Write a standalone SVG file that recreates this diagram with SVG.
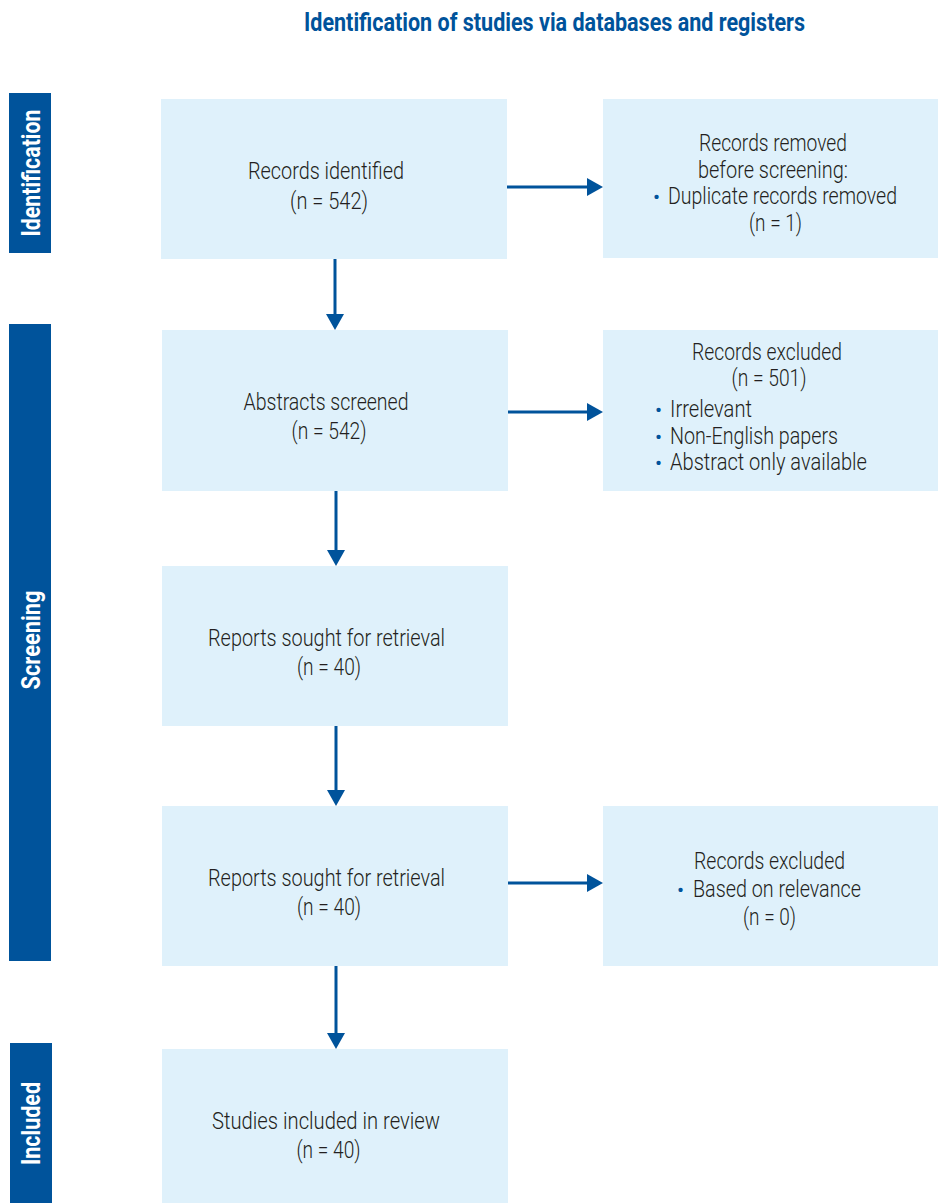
<svg xmlns="http://www.w3.org/2000/svg" width="938" height="1203" viewBox="0 0 938 1203">
<style>
.box{fill:#DFF1FB}
.bar{fill:#00539B}
.t{font-family:Roboto,"Liberation Sans",sans-serif;font-weight:300;font-size:23px;fill:#231F20}
.c{text-anchor:middle}
.b{font-family:Roboto,"Liberation Sans",sans-serif;font-size:21px;fill:#00539B}
.lab{font-family:Roboto,"Liberation Sans",sans-serif;font-weight:700;font-size:25px;fill:#FFFFFF;text-anchor:middle}
.title{font-family:Roboto,"Liberation Sans",sans-serif;font-weight:700;font-size:25px;fill:#00539B;text-anchor:middle}
.con{stroke:#00539B;stroke-width:3;fill:none;marker-end:url(#ah)}
</style>
<defs>
<marker id="ah" markerUnits="userSpaceOnUse" markerWidth="16" markerHeight="18" refX="6" refY="9" orient="auto" viewBox="0 0 16 18">
<path d="M0,0 L16,9 L0,18 Z" fill="#00539B"/>
</marker>
</defs>
<rect width="938" height="1203" fill="#FFFFFF"/>
<text class="title" x="554.5" y="30.5" textLength="501" lengthAdjust="spacingAndGlyphs">Identification of studies via databases and registers</text>

<g id="phase-identification">
<rect class="bar" x="9" y="93" width="42" height="160"/>
<text class="lab" transform="translate(39.5,173) rotate(-90)" textLength="127" lengthAdjust="spacingAndGlyphs">Identification</text>
</g>
<g id="phase-screening">
<rect class="bar" x="9" y="324" width="42" height="637"/>
<text class="lab" transform="translate(39.5,640) rotate(-90)" textLength="99" lengthAdjust="spacingAndGlyphs">Screening</text>
</g>
<g id="phase-included">
<rect class="bar" x="10" y="1043" width="42" height="160"/>
<text class="lab" transform="translate(39.5,1123.5) rotate(-90)" textLength="83" lengthAdjust="spacingAndGlyphs">Included</text>
</g>

<g id="records-identified">
<rect class="box" x="161" y="99" width="346" height="160"/>
<text class="t c" x="326" y="179" textLength="156" lengthAdjust="spacingAndGlyphs">Records identified</text>
<text class="t c" x="329" y="208.5" textLength="78" lengthAdjust="spacingAndGlyphs">(n = 542)</text>
</g>
<g id="records-removed">
<rect class="box" x="603" y="99" width="335" height="159"/>
<text class="t c" x="773" y="151" textLength="148" lengthAdjust="spacingAndGlyphs">Records removed</text>
<text class="t c" x="773" y="177.5" textLength="150" lengthAdjust="spacingAndGlyphs">before screening:</text>
<text class="b" x="653" y="204">•</text>
<text class="t" x="668" y="204" textLength="229" lengthAdjust="spacingAndGlyphs">Duplicate records removed</text>
<text class="t c" x="775.5" y="230.5" textLength="53" lengthAdjust="spacingAndGlyphs">(n = 1)</text>
</g>
<g id="abstracts-screened">
<rect class="box" x="162" y="330" width="346" height="161"/>
<text class="t c" x="326" y="409.5" textLength="165" lengthAdjust="spacingAndGlyphs">Abstracts screened</text>
<text class="t c" x="329" y="438.5" textLength="75" lengthAdjust="spacingAndGlyphs">(n = 542)</text>
</g>
<g id="records-excluded-1">
<rect class="box" x="603" y="330" width="335" height="161"/>
<text class="t c" x="767" y="359.5" textLength="150" lengthAdjust="spacingAndGlyphs">Records excluded</text>
<text class="t c" x="769" y="386" textLength="75" lengthAdjust="spacingAndGlyphs">(n = 501)</text>
<text class="b" x="655" y="416.5">•</text>
<text class="t" x="670" y="416.5" textLength="82" lengthAdjust="spacingAndGlyphs">Irrelevant</text>
<text class="b" x="655" y="443.5">•</text>
<text class="t" x="670" y="443.5" textLength="168" lengthAdjust="spacingAndGlyphs">Non-English papers</text>
<text class="b" x="655" y="470">•</text>
<text class="t" x="670" y="470" textLength="197" lengthAdjust="spacingAndGlyphs">Abstract only available</text>
</g>
<g id="reports-sought-1">
<rect class="box" x="162" y="566" width="346" height="160"/>
<text class="t c" x="326.5" y="645.5" textLength="237" lengthAdjust="spacingAndGlyphs">Reports sought for retrieval</text>
<text class="t c" x="329" y="674.5" textLength="64" lengthAdjust="spacingAndGlyphs">(n = 40)</text>
</g>
<g id="reports-sought-2">
<rect class="box" x="162" y="806" width="346" height="160"/>
<text class="t c" x="326.5" y="885.5" textLength="237" lengthAdjust="spacingAndGlyphs">Reports sought for retrieval</text>
<text class="t c" x="329" y="914.5" textLength="64" lengthAdjust="spacingAndGlyphs">(n = 40)</text>
</g>
<g id="records-excluded-2">
<rect class="box" x="603" y="806" width="335" height="160"/>
<text class="t c" x="769.5" y="868.5" textLength="151" lengthAdjust="spacingAndGlyphs">Records excluded</text>
<text class="b" x="677" y="897">•</text>
<text class="t" x="693" y="897" textLength="168" lengthAdjust="spacingAndGlyphs">Based on relevance</text>
<text class="t c" x="769.5" y="924.5" textLength="53" lengthAdjust="spacingAndGlyphs">(n = 0)</text>
</g>
<g id="studies-included">
<rect class="box" x="162" y="1049" width="346" height="154"/>
<text class="t c" x="326" y="1129" textLength="228" lengthAdjust="spacingAndGlyphs">Studies included in review</text>
<text class="t c" x="328.5" y="1157.5" textLength="64" lengthAdjust="spacingAndGlyphs">(n = 40)</text>
</g>

<g id="connectors">
<line class="con" x1="335" y1="259" x2="335" y2="320"/>
<line class="con" x1="336" y1="491" x2="336" y2="556"/>
<line class="con" x1="336" y1="726" x2="336" y2="796"/>
<line class="con" x1="336" y1="966" x2="336" y2="1039"/>
<line class="con" x1="507" y1="187" x2="593" y2="187"/>
<line class="con" x1="508" y1="412" x2="593" y2="412"/>
<line class="con" x1="508" y1="883" x2="593" y2="883"/>
</g>
</svg>
